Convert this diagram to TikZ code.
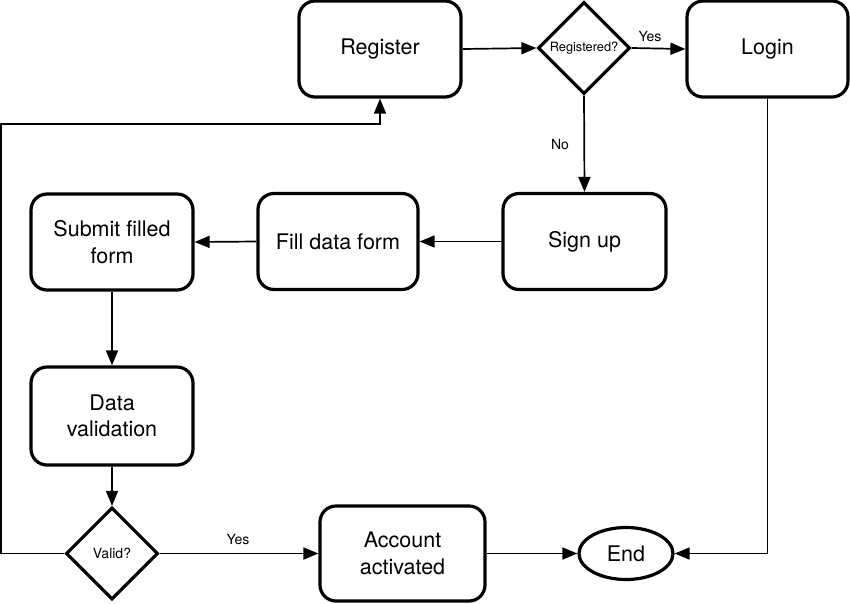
\documentclass[tikz,border=0pt]{standalone}
\usepackage{fontspec}
\setmainfont{TeX Gyre Heros}
\usetikzlibrary{arrows.meta,shapes.geometric}
\begin{document}
\begin{tikzpicture}[x=1pt,y=-1pt,
  box/.style={draw,line width=3.2pt,rounded corners=16pt,minimum width=162pt,minimum height=96pt,align=center,inner sep=0pt,font=\fontsize{21.5}{26.5}\selectfont},
  dec/.style={draw,line width=3.2pt,diamond,aspect=1,minimum width=92pt,minimum height=92pt,inner sep=0pt},
  conn/.style={line width=1.7pt,-{Triangle[length=15pt,width=12pt]}},
  lbl/.style={font=\fontsize{14}{16}\selectfont,inner sep=0pt}]
\useasboundingbox (0,0) rectangle (850,603);
\node[box] (register) at (380,49) {Register};
\node[dec] (regq) at (584,48) {\fontsize{12.8}{14}\selectfont Registered?};
\node[box,minimum width=161pt] (login) at (767.5,49) {Login};
\node[box,minimum width=163pt] (signup) at (584.5,241.5) {Sign up};
\node[box,minimum width=160pt] (fill) at (338,241.5) {Fill data form};
\node[box] (submit) at (112,242) {Submit filled\\form};
\node[box,minimum height=98pt] (valid) at (112,416) {Data\\validation};
\node[dec] (validq) at (112,553.5) {\fontsize{14}{16}\selectfont Valid?};
\node[box,minimum width=165pt,minimum height=95pt] (account) at (402.5,553.5) {Account\\activated};
\node[draw,line width=3.2pt,ellipse,minimum width=94pt,minimum height=52pt,inner sep=0pt,font=\fontsize{21.5}{24}\selectfont] (end) at (626,553.5) {End};
\coordinate (lp) at (1,124);
\node[lbl] (yes1) at (650,36) {Yes};
\node[lbl] (no1) at (560,144) {No};
\node[lbl] (yes2) at (238,539) {Yes};
\draw[conn] (register.east) -- (regq.west);
\draw[conn] (regq.east) -- (login.west);
\draw[conn] (regq.south) -- (signup.north);
\draw[conn] (signup.west) -- (fill.east);
\draw[conn] (fill.west) -- (submit.east);
\draw[conn] (submit.south) -- (valid.north);
\draw[conn] (valid.south) -- (validq.north);
\draw[conn] (validq.east) -- (account.west);
\draw[conn] (account.east) -- (end.west);
\draw[conn] (login.south) |- (end.east);
\draw[conn] (validq.west) -| (lp) -| (register.south);
\end{tikzpicture}
\end{document}
